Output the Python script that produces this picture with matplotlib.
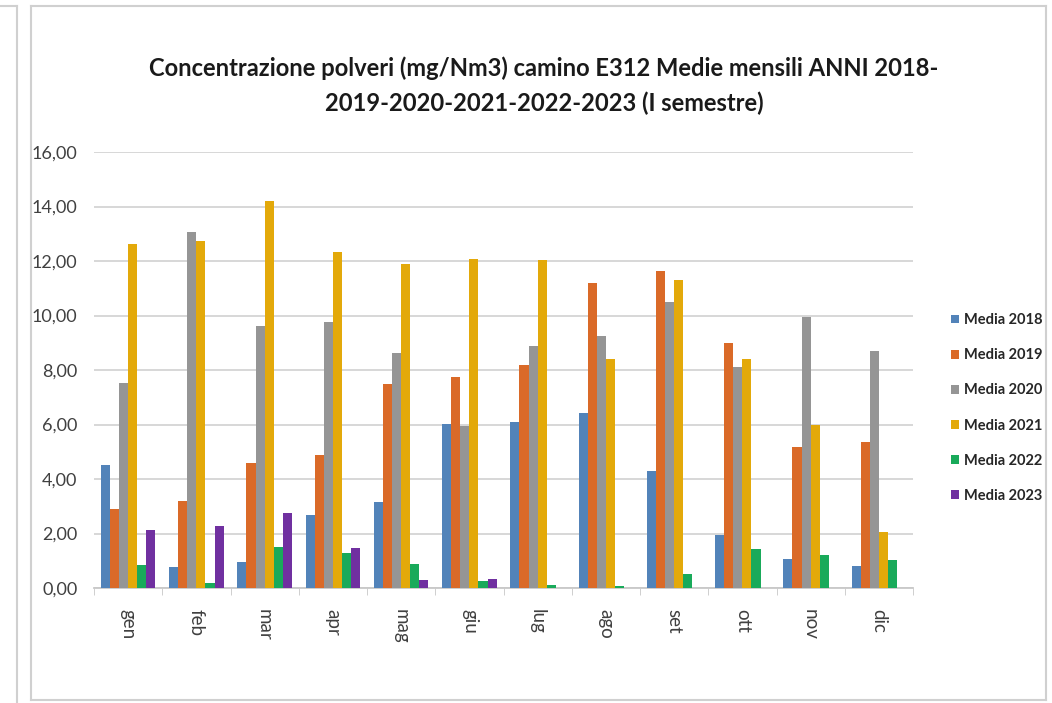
import numpy as np
import matplotlib.pyplot as plt
from matplotlib.lines import Line2D
from matplotlib.ticker import FixedLocator, FuncFormatter

mesi = ["gen", "feb", "mar", "apr", "mag", "giu", "lug", "ago", "set", "ott", "nov", "dic"]
anni = ["Media 2018", "Media 2019", "Media 2020", "Media 2021", "Media 2022", "Media 2023"]

media_2018 = [4.50, 0.78, 0.94, 2.67, 3.15, 6.03, 6.11, 6.44, 4.31, 1.96, 1.07, 0.80]
media_2019 = [2.91, 3.18, 4.59, 4.87, 7.48, 7.76, 8.20, 11.19, 11.65, 9.00, 5.17, 5.37]
media_2020 = [7.53, 13.08, 9.62, 9.77, 8.61, 5.95, 8.87, 9.25, 10.49, 8.10, 9.96, 8.70]
media_2021 = [12.62, 12.73, 14.22, 12.33, 11.90, 12.08, 12.03, 8.41, 11.29, 8.39, 5.98, 2.06]
media_2022 = [0.83, 0.18, 1.51, 1.27, 0.89, 0.26, 0.11, 0.09, 0.51, 1.44, 1.22, 1.04]
media_2023 = [2.14, 2.27, 2.76, 1.47, 0.31, 0.32, np.nan, np.nan, np.nan, np.nan, np.nan, np.nan]

serie = [media_2018, media_2019, media_2020, media_2021, media_2022, media_2023]
colori = ["#5283B9", "#DA6A28", "#959595", "#E3A90A", "#19AA5A", "#7030A0"]

font = ["Lato", "DejaVu Sans"]
plt.rcParams["font.family"] = font

W, H = 1052, 703
fig = plt.figure(figsize=(W / 100, H / 100), dpi=100)
ax = fig.add_axes([94 / W, 1 - 588 / H, (913 - 94) / W, (588 - 152) / H])

x = np.arange(len(mesi))
w = 1 / 7.5
for j, (vals, col, lab) in enumerate(zip(serie, colori, anni)):
    ax.bar(x + (j - 2.5) * w, vals, width=w, color=col, label=lab, zorder=3)

ax.set_xlim(-0.5, len(mesi) - 0.5)
ax.set_ylim(0, 16)
ax.set_yticks(np.arange(0, 17, 2))
ax.yaxis.set_major_formatter(FuncFormatter(lambda v, p: f"{v:.2f}".replace(".", ",")))
ax.grid(axis="y", color="#d4d4d4", linewidth=1.3, zorder=0)
ax.tick_params(axis="y", length=0, pad=12, labelsize=13, labelcolor="#404040")

ax.set_xticks(x)
ax.set_xticklabels(mesi, rotation=-90, fontsize=13.5, color="#404040")
ax.xaxis.set_minor_locator(FixedLocator(np.arange(-0.5, len(mesi), 1)))
ax.tick_params(axis="x", which="major", length=0, pad=15)
ax.tick_params(axis="x", which="minor", length=5, color="#c8c8c8")

for s in ["top", "right", "left"]:
    ax.spines[s].set_visible(False)
ax.spines["bottom"].set_color("#c8c8c8")
ax.spines["bottom"].set_linewidth(1.3)

t1 = fig.text(544 / W, 1 - 68 / H,
              "Concentrazione polveri (mg/Nm3) camino E312 Medie mensili ANNI 2018-",
              ha="center", va="center", fontsize=16, fontweight="bold", color="#1a1a1a")
t2 = fig.text(544 / W, 1 - 103 / H,
              "2019-2020-2021-2022-2023 (I semestre)",
              ha="center", va="center", fontsize=16, fontweight="bold", color="#1a1a1a")

# porta la prima riga del titolo a circa 792 px di larghezza
r = fig.canvas.get_renderer()
scala = 792 / t1.get_window_extent(r).width
for t in (t1, t2):
    t.set_fontsize(16 * scala)

leg = ax.legend(loc="center left", bbox_to_anchor=(944 / W, 1 - 408 / H),
                bbox_transform=fig.transFigure, frameon=False,
                handlelength=0.55, handleheight=0.55, handletextpad=0.3,
                labelspacing=1.45, borderpad=0,
                prop={"family": font, "weight": "bold", "size": 10.5})
for t in leg.get_texts():
    t.set_color("#262626")

# cornici dei riquadri
grigio = "#d0d0d0"
def linea(x0, y0, x1, y1):
    fig.add_artist(Line2D([x0 / W, x1 / W], [1 - y0 / H, 1 - y1 / H],
                          color=grigio, linewidth=1.5, transform=fig.transFigure))

linea(0, 6, 17, 6)
linea(17, 6, 17, 703)
linea(31, 6, 1046, 6)
linea(31, 6, 31, 700)
linea(1046, 6, 1046, 700)
linea(31, 700, 1046, 700)

fig.savefig("out.png", dpi=100)
